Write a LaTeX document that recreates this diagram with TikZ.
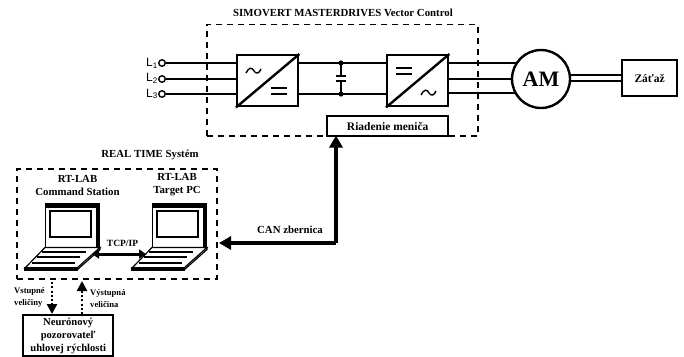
\documentclass[tikz,border=0pt]{standalone}
\usepackage{fontspec}
\setmainfont{Liberation Serif}
\newfontfamily\lsans{Liberation Sans}
\usetikzlibrary{arrows.meta}
\tikzset{
  x=1pt,y=-1pt,
  boxn/.style={draw,line width=2.4pt,fill=white,inner sep=0pt,anchor=north west},
  lbl/.style={font=\bfseries\fontsize{10.8}{13}\selectfont,align=center,inner sep=0pt},
  small/.style={font=\bfseries\fontsize{8.6}{12}\selectfont,align=left,inner sep=0pt},
  dashbox/.style={draw,line width=1.8pt,dash pattern=on 6pt off 5pt,inner sep=0pt,anchor=north west},
  wire/.style={line width=1.8pt},
  term/.style={circle,draw,line width=1.4pt,fill=white,minimum size=6.5pt,inner sep=0pt},
  bus/.style={line width=3.6pt,-{Triangle[length=12pt,width=13pt]}},
  busb/.style={line width=3pt,{Triangle[length=7pt,width=9pt]}-{Triangle[length=7pt,width=9pt]}},
  dotarrow/.style={line width=2.6pt,dash pattern=on 2pt off 2.2pt,-{Triangle[length=10pt,width=10pt,sep=0pt]}},
  laptop/.pic={
    \fill[black] (0,-2) rectangle (55,42);
    \draw[line width=1pt,fill=white] (0.5,2) rectangle (51,43);
    \draw[line width=1.2pt,fill=white] (5,6) rectangle (46,32);
    \draw[line width=1.2pt,fill=white] (0,42.5) -- (55,42.5) -- (32,63) -- (-20,63) -- cycle;
    \draw[line width=1.2pt,fill=black!25] (-20,63) -- (32,63) -- (32,65) -- (-20,65) -- cycle;
    \draw[line width=1.2pt] (32,65) -- (55,44.5) -- (55,42.5);
    \draw[line width=1.6pt] (-3,47) -- (41,47);
    \draw[line width=1.6pt] (-8,52) -- (35,52);
    \draw[line width=1.6pt] (-13,58) -- (30,58);
  }
}
\begin{document}
\begin{tikzpicture}
\useasboundingbox (0,0) rectangle (684,356);
\fill[white] (0,0) rectangle (684,356);
% top dashed frame
\node[dashbox,minimum width=271pt,minimum height=111.5pt] (drive) at (206,23.5) {};
\node[lbl] (drivet) at (343,13) {SIMOVERT MASTERDRIVES Vector Control};
% terminals
\node[term] (l1) at (162,63) {};
\node[term] (l2) at (162,79) {};
\node[term] (l3) at (162,94) {};
\node[anchor=east,inner sep=0pt,font=\lsans\fontsize{12}{12}\selectfont] (l1t) at (158,63) {L\textsubscript{1}};
\node[anchor=east,inner sep=0pt,font=\lsans\fontsize{12}{12}\selectfont] (l2t) at (158,78) {L\textsubscript{2}};
\node[anchor=east,inner sep=0pt,font=\lsans\fontsize{12}{12}\selectfont] (l3t) at (158,94) {L\textsubscript{3}};
% converters
\node[boxn,minimum width=61pt,minimum height=51pt] (rect) at (236,54) {};
\node[boxn,minimum width=61pt,minimum height=51pt] (inv) at (386,54) {};
\draw[line width=2.4pt] (rect.south west) -- (rect.north east);
\draw[line width=2.4pt] (inv.south west) -- (inv.north east);
\coordinate (rt) at (297,63);
\coordinate (rb) at (297,94);
\coordinate (it) at (386,63);
\coordinate (ib) at (386,94);
\coordinate (c1) at (341,63);
\coordinate (c2) at (341,94);
\coordinate (p1) at (341,76);
\coordinate (p2) at (341,81);
\draw[wire] (l1) -- (236,63);
\draw[wire] (l2) -- (236,79);
\draw[wire] (l3) -- (236,94);
\draw[wire] (rt) -- (it);
\draw[wire] (rb) -- (ib);
\draw[wire] (c1) -- (p1);
\draw[wire] (p2) -- (c2);
\draw[line width=1.8pt] (336,76) -- (346,76);
\draw[line width=1.8pt] (336,81) -- (346,81);
\fill (c1) circle (2.6pt);
\fill (c2) circle (2.6pt);
% symbols
\draw[line width=1.4pt] (246,73) .. controls (249,67) and (252,67) .. (254,71) .. controls (256,74) and (259,74) .. (261,69);
\draw[line width=1.5pt] (271,88) -- (287,88) (271,94) -- (287,94);
\draw[line width=1.5pt] (396,68) -- (412,68) (396,74) -- (412,74);
\draw[line width=1.4pt] (421,95) .. controls (424,89) and (427,89) .. (429,93) .. controls (431,96) and (434,96) .. (436,91);
% motor
\draw[wire] (447,63) -- (516,63);
\draw[wire] (447,79) -- (512,79);
\draw[wire] (447,93) -- (516,93);
\node[circle,draw,line width=2.4pt,fill=white,minimum size=58pt,inner sep=0pt,font=\bfseries\fontsize{22}{22}\selectfont] (am) at (541,79) {AM};
\node[boxn,minimum width=55pt,minimum height=36pt,font=\bfseries\fontsize{11.5}{12}\selectfont] (load) at (621,59) {Záťaž};
\draw[wire] (569.5,75) -- (621,75);
\draw[wire] (569.5,81) -- (621,81);
% control
\node[boxn,minimum width=121pt,minimum height=20pt,font=\bfseries\fontsize{11.5}{12}\selectfont] (ctrl) at (326,115) {Riadenie meniča};
% realtime frame
\node[lbl] (rtt) at (150,155) {REAL TIME Systém};
\node[dashbox,minimum width=200pt,minimum height=110pt] (rts) at (16,168) {};
\node[lbl] (cs) at (77.5,185) {RT-LAB\\Command Station};
\node[lbl] (tp) at (177,185) {RT-LAB\\Target PC};
\pic at (45,205) {laptop};
\pic at (152,205) {laptop};
\coordinate (lap1) at (92,254);
\coordinate (lap2) at (146,254);
\draw[busb] (lap1) -- (lap2);
\node[font=\bfseries\fontsize{9.5}{10}\selectfont,inner sep=0pt] (tcp) at (122.5,243) {TCP/IP};
% CAN
\coordinate (cancorner) at (336,243);
\coordinate (canend) at (219,243);
\draw[bus] (cancorner) -- (canend);
\draw[bus] (cancorner) -- (336,135.5);
\node[lbl] (can) at (290,230) {CAN zbernica};
% neuro
\node[boxn,minimum width=90pt,minimum height=41pt,font=\bfseries\fontsize{10.6}{13}\selectfont,align=center] (neuro) at (22,314) {Neurónový\\pozorovateľ\\uhlovej rýchlosti};
\coordinate (d1) at (52,278);
\coordinate (d2) at (82,314);
\coordinate (d1e) at (52,314);
\coordinate (d2e) at (82,281);
\draw[dotarrow] (d1) -- (d1e);
\draw[dotarrow] (d2) -- (d2e);
\node[small,anchor=west] (vst) at (14,297.5) {Vstupné\\veličiny};
\node[small,anchor=west] (vys) at (90,298.5) {Výstupná\\veličina};
\end{tikzpicture}
\end{document}
